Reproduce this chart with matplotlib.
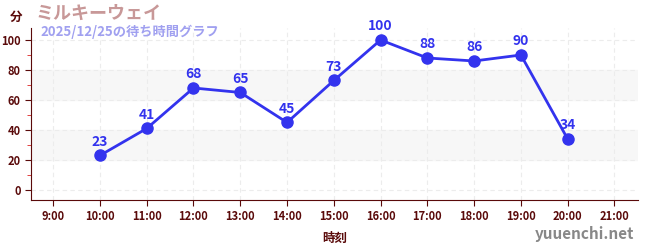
import matplotlib.pyplot as plt
import numpy as np

plt.rcParams["font.family"] = ["Noto Sans CJK JP", "DejaVu Sans"]

hours = [10, 11, 12, 13, 14, 15, 16, 17, 18, 19, 20]
waits = [23, 41, 68, 65, 45, 73, 100, 88, 86, 90, 34]
tick_hours = list(range(9, 22))
tick_labels = [f"{h}:00" for h in tick_hours]
y_ticks = [0, 20, 40, 60, 80, 100]

axis_color = "#5a0a0a"
line_color = "#3333ee"

fig = plt.figure(figsize=(6.5, 2.5), dpi=100)
ax = fig.add_axes([0.048, 0.2, 0.934, 0.688])

for lo, hi in [(20, 40), (60, 80)]:
    ax.axhspan(lo, hi, color="#f7f7f7", zorder=0)

ax.plot(hours, waits, color=line_color, lw=2, marker="o", ms=8, zorder=3)
for h, w in zip(hours, waits):
    ax.annotate(str(w), (h, w), xytext=(0, 5), textcoords="offset points",
                ha="center", va="bottom", color=line_color, fontsize=10,
                fontweight="bold", zorder=4)

ax.set_xlim(8.53, 21.51)
ax.set_ylim(-6.7, 108)
ax.set_xticks(tick_hours)
ax.set_xticklabels(tick_labels)
ax.set_yticks(y_ticks)
ax.set_yticks(np.arange(10, 101, 20), minor=True)
ax.tick_params(axis="both", colors=axis_color, labelsize=8, length=4)
ax.tick_params(axis="y", which="minor", colors="#dd2222", length=3)
for lab in ax.get_xticklabels() + ax.get_yticklabels():
    lab.set_fontweight("bold")
    lab.set_color(axis_color)

ax.grid(True, color="#ececec", ls=(0, (4, 3)), lw=0.8)
ax.set_axisbelow(True)
for side in ["top", "right"]:
    ax.spines[side].set_visible(False)
ax.spines["left"].set_color(axis_color)
ax.spines["bottom"].set_color(axis_color)

ax.set_xlabel("時刻", color=axis_color, fontsize=9, fontweight="bold", labelpad=6)

fig.text(0.015, 0.93, "分", color=axis_color, fontsize=9, fontweight="bold", va="center")
fig.text(0.055, 0.945, "ミルキーウェイ", color="#c89898", fontsize=13, fontweight="bold", va="center")
fig.text(0.062, 0.872, "2025/12/25の待ち時間グラフ", color="#a0a0f0", fontsize=9.5,
         fontweight="bold", va="center")
fig.text(0.975, 0.065, "yuuenchi.net", color="#888888", fontsize=11, fontweight="bold",
         ha="right", va="center")

fig.savefig("out.png", dpi=100)
